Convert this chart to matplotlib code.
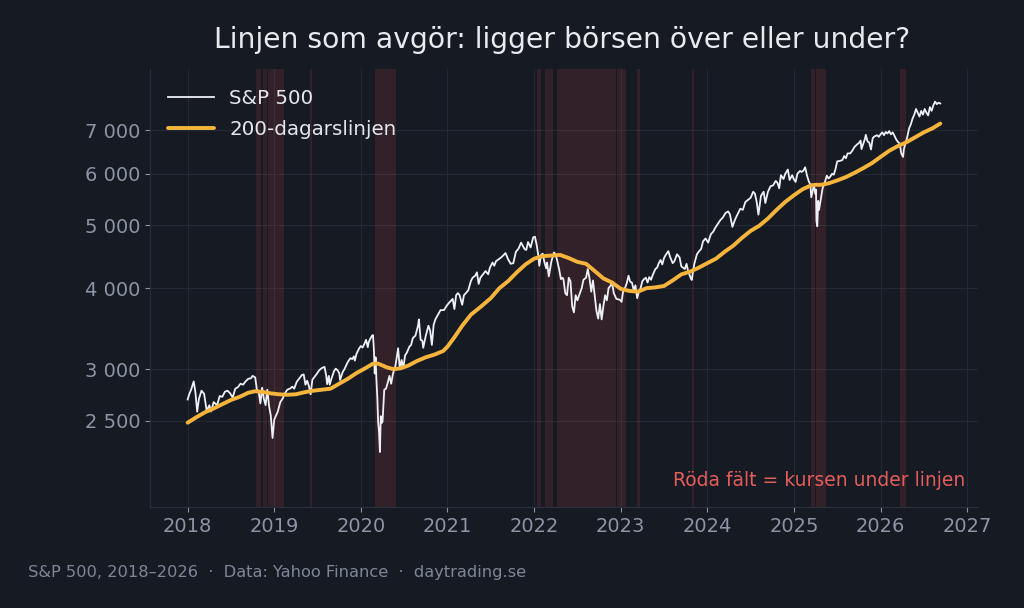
import matplotlib

matplotlib.use("Agg")
import matplotlib.pyplot as plt
from matplotlib.ticker import FixedLocator, NullLocator

# S&P 500 close (decimal year, index level)
sp_t = [
    2018.00, 2018.02, 2018.04, 2018.07, 2018.09, 2018.11, 2018.13, 2018.16, 2018.19, 2018.22,
    2018.25, 2018.27, 2018.30, 2018.34, 2018.37, 2018.40, 2018.43, 2018.46, 2018.49, 2018.52,
    2018.55, 2018.58, 2018.61, 2018.64, 2018.67, 2018.70, 2018.73, 2018.75, 2018.78, 2018.80,
    2018.82, 2018.84, 2018.86, 2018.88, 2018.90, 2018.92, 2018.94, 2018.96, 2018.98, 2019.00,
    2019.04, 2019.07, 2019.10, 2019.12, 2019.15, 2019.18, 2019.21, 2019.23, 2019.26, 2019.29,
    2019.32, 2019.34, 2019.36, 2019.38, 2019.40, 2019.42, 2019.44, 2019.47, 2019.49, 2019.52,
    2019.55, 2019.58, 2019.60, 2019.61, 2019.63, 2019.64, 2019.66, 2019.69, 2019.71, 2019.73,
    2019.75, 2019.76, 2019.79, 2019.81, 2019.83, 2019.85, 2019.88, 2019.90, 2019.92, 2019.93,
    2019.95, 2019.98, 2020.00, 2020.02, 2020.04, 2020.06, 2020.08, 2020.09, 2020.11, 2020.13,
    2020.14, 2020.15, 2020.16, 2020.17, 2020.18, 2020.19, 2020.20, 2020.21, 2020.22, 2020.23,
    2020.24, 2020.25, 2020.27, 2020.29, 2020.31, 2020.33, 2020.35, 2020.37, 2020.40, 2020.43,
    2020.45, 2020.47, 2020.49, 2020.51, 2020.53, 2020.56, 2020.58, 2020.60, 2020.63, 2020.66,
    2020.67, 2020.69, 2020.71, 2020.72, 2020.75, 2020.78, 2020.80, 2020.82, 2020.84, 2020.86,
    2020.89, 2020.92, 2020.96, 2020.99, 2021.02, 2021.06, 2021.08, 2021.10, 2021.12, 2021.14,
    2021.16, 2021.17, 2021.19, 2021.22, 2021.24, 2021.27, 2021.29, 2021.32, 2021.34, 2021.36,
    2021.38, 2021.41, 2021.44, 2021.47, 2021.49, 2021.52, 2021.54, 2021.56, 2021.58, 2021.62,
    2021.65, 2021.67, 2021.70, 2021.73, 2021.76, 2021.79, 2021.82, 2021.85, 2021.89, 2021.91,
    2021.93, 2021.96, 2021.99, 2022.01, 2022.03, 2022.05, 2022.06, 2022.08, 2022.10, 2022.12,
    2022.14, 2022.15, 2022.17, 2022.20, 2022.23, 2022.25, 2022.27, 2022.29, 2022.31, 2022.33,
    2022.34, 2022.36, 2022.38, 2022.40, 2022.42, 2022.44, 2022.46, 2022.48, 2022.50, 2022.52,
    2022.55, 2022.57, 2022.60, 2022.62, 2022.64, 2022.66, 2022.68, 2022.70, 2022.72, 2022.74,
    2022.76, 2022.78, 2022.80, 2022.82, 2022.84, 2022.86, 2022.88, 2022.90, 2022.92, 2022.95,
    2022.99, 2023.01, 2023.03, 2023.05, 2023.07, 2023.09, 2023.11, 2023.13, 2023.15, 2023.17,
    2023.19, 2023.21, 2023.23, 2023.25, 2023.27, 2023.29, 2023.31, 2023.33, 2023.35, 2023.37,
    2023.40, 2023.42, 2023.44, 2023.46, 2023.48, 2023.50, 2023.52, 2023.55, 2023.57, 2023.60,
    2023.62, 2023.65, 2023.68, 2023.70, 2023.74, 2023.76, 2023.78, 2023.81, 2023.82, 2023.85,
    2023.88, 2023.90, 2023.93, 2023.95, 2023.98, 2024.01, 2024.04, 2024.07, 2024.09, 2024.12,
    2024.15, 2024.18, 2024.21, 2024.24, 2024.26, 2024.29, 2024.32, 2024.35, 2024.38, 2024.41,
    2024.44, 2024.47, 2024.50, 2024.53, 2024.55, 2024.57, 2024.59, 2024.62, 2024.65, 2024.67,
    2024.70, 2024.73, 2024.76, 2024.79, 2024.81, 2024.83, 2024.85, 2024.88, 2024.90, 2024.93,
    2024.95, 2024.98, 2025.00, 2025.02, 2025.04, 2025.07, 2025.09, 2025.11, 2025.13, 2025.15,
    2025.17, 2025.19, 2025.20, 2025.22, 2025.23, 2025.25, 2025.255, 2025.26, 2025.27, 2025.28,
    2025.29, 2025.31, 2025.33, 2025.36, 2025.38, 2025.40, 2025.42, 2025.44, 2025.46, 2025.48,
    2025.50, 2025.53, 2025.56, 2025.58, 2025.60, 2025.62, 2025.65, 2025.67, 2025.70, 2025.73,
    2025.75, 2025.77, 2025.78, 2025.80, 2025.82, 2025.83, 2025.85, 2025.87, 2025.89, 2025.91,
    2025.93, 2025.96, 2025.98, 2026.00, 2026.02, 2026.04, 2026.06, 2026.08, 2026.10, 2026.12,
    2026.14, 2026.16, 2026.18, 2026.20, 2026.22, 2026.24, 2026.26, 2026.27, 2026.29, 2026.31,
    2026.33, 2026.35, 2026.37, 2026.39, 2026.41, 2026.43, 2026.45, 2026.47, 2026.49, 2026.51,
    2026.53, 2026.55, 2026.57, 2026.59, 2026.61, 2026.63, 2026.65, 2026.67, 2026.69,
]
sp_v = [
    2695, 2750, 2790, 2873, 2762, 2581, 2700, 2780, 2750, 2588,
    2640, 2582, 2670, 2640, 2728, 2720, 2770, 2780, 2755, 2713,
    2800, 2815, 2850, 2840, 2875, 2900, 2905, 2930, 2914, 2785,
    2768, 2658, 2810, 2700, 2641, 2790, 2633, 2545, 2351, 2510,
    2580, 2670, 2707, 2750, 2790, 2800, 2820, 2800, 2870, 2905,
    2940, 2945, 2840, 2880, 2826, 2745, 2890, 2925, 2950, 2990,
    3013, 3025, 2932, 2845, 2930, 2840, 2900, 2980, 3006, 2990,
    2960, 2887, 2970, 3000, 3040, 3080, 3120, 3110, 3140, 3093,
    3170, 3230, 3258, 3240, 3280, 3330, 3244, 3300, 3345, 3380,
    3386, 3225, 2954, 3130, 2882, 2711, 2480, 2400, 2237, 2540,
    2480, 2490, 2790, 2800, 2860, 2930, 2850, 2950, 3040, 3232,
    3002, 3100, 3010, 3150, 3180, 3250, 3270, 3350, 3380, 3500,
    3580, 3330, 3320, 3237, 3380, 3500, 3440, 3270, 3510, 3580,
    3640, 3700, 3700, 3756, 3800, 3850, 3714, 3900, 3930, 3900,
    3811, 3770, 3900, 3940, 3970, 4100, 4150, 4180, 4230, 4060,
    4150, 4200, 4250, 4200, 4300, 4380, 4330, 4400, 4420, 4460,
    4500, 4530, 4430, 4360, 4370, 4550, 4600, 4700, 4594, 4580,
    4710, 4620, 4790, 4800, 4660, 4480, 4330, 4500, 4520, 4380,
    4290, 4380, 4170, 4400, 4540, 4500, 4390, 4270, 4130, 4150,
    4120, 3930, 3900, 4150, 4100, 3750, 3670, 3900, 3830, 3900,
    4000, 4120, 4150, 4280, 4140, 3950, 4110, 3900, 3690, 3590,
    3780, 3580, 3750, 3900, 3830, 4000, 4030, 4080, 3930, 3850,
    3839, 3810, 3970, 4000, 4070, 4180, 4090, 4080, 3970, 4040,
    3860, 3950, 4000, 4100, 4130, 4150, 4080, 4160, 4120, 4190,
    4280, 4300, 4370, 4420, 4350, 4450, 4500, 4560, 4470, 4370,
    4400, 4510, 4460, 4320, 4280, 4360, 4240, 4140, 4117, 4360,
    4510, 4550, 4600, 4720, 4770, 4700, 4840, 4890, 4950, 5020,
    5090, 5140, 5220, 5250, 5200, 4970, 5100, 5200, 5300, 5280,
    5430, 5470, 5510, 5630, 5590, 5430, 5190, 5550, 5630, 5410,
    5630, 5740, 5760, 5850, 5810, 5700, 5970, 5890, 6000, 6090,
    5870, 5970, 5880, 5830, 6000, 6060, 6040, 6070, 6140, 5970,
    5850, 5770, 5520, 5670, 5770, 5580, 5670, 5070, 4980, 5450,
    5280, 5480, 5690, 5840, 5960, 5900, 5940, 6000, 5980, 6100,
    6270, 6280, 6300, 6390, 6340, 6450, 6450, 6500, 6600, 6660,
    6690, 6750, 6550, 6670, 6790, 6890, 6730, 6700, 6540, 6810,
    6850, 6880, 6840, 6900, 6950, 6880, 6960, 6920, 6980, 6900,
    6950, 6870, 6780, 6720, 6680, 6450, 6370, 6550, 6700, 6850,
    7050, 7150, 7300, 7400, 7550, 7450, 7350, 7500, 7400, 7550,
    7450, 7380, 7600, 7500, 7650, 7750, 7680, 7720, 7700,
]

# 200-day moving average
ma_t = [
    2018.00, 2018.10, 2018.20, 2018.30, 2018.40, 2018.50, 2018.60, 2018.70, 2018.78, 2018.85,
    2018.95, 2019.05, 2019.15, 2019.25, 2019.35, 2019.45, 2019.55, 2019.65, 2019.75, 2019.85,
    2019.95, 2020.05, 2020.14, 2020.20, 2020.30, 2020.38, 2020.46, 2020.55, 2020.65, 2020.75,
    2020.85, 2020.95, 2021.00, 2021.08, 2021.17, 2021.27, 2021.38, 2021.50, 2021.60, 2021.70,
    2021.80, 2021.90, 2022.00, 2022.10, 2022.20, 2022.30, 2022.40, 2022.50, 2022.60, 2022.70,
    2022.80, 2022.90, 2023.00, 2023.10, 2023.20, 2023.30, 2023.40, 2023.50, 2023.60, 2023.70,
    2023.80, 2023.90, 2024.00, 2024.10, 2024.20, 2024.30, 2024.40, 2024.50, 2024.60, 2024.70,
    2024.80, 2024.90, 2025.00, 2025.10, 2025.20, 2025.25, 2025.32, 2025.40, 2025.50, 2025.60,
    2025.70, 2025.80, 2025.90, 2026.00, 2026.10, 2026.20, 2026.30, 2026.40, 2026.50, 2026.60,
    2026.69,
]
ma_v = [
    2482, 2530, 2575, 2610, 2650, 2690, 2720, 2760, 2775, 2770,
    2755, 2745, 2740, 2745, 2765, 2780, 2790, 2800, 2850, 2900,
    2960, 3010, 3060, 3060, 3020, 3000, 3010, 3040, 3090, 3130,
    3160, 3200, 3250, 3360, 3500, 3640, 3740, 3860, 4000, 4100,
    4230, 4350, 4440, 4480, 4490, 4500, 4450, 4390, 4360, 4250,
    4140, 4080, 3990, 3960, 3950, 4000, 4010, 4030, 4110, 4200,
    4240, 4300, 4370, 4440, 4550, 4650, 4780, 4900, 4990, 5120,
    5280, 5430, 5560, 5680, 5760, 5770, 5770, 5800, 5860, 5930,
    6020, 6120, 6230, 6370, 6510, 6620, 6710, 6830, 6950, 7050,
    7170,
]

# periods with the close below the 200-day line
below_start = [2018.79, 2018.87, 2018.93, 2019.41, 2020.16, 2022.03, 2022.13,
               2022.26, 2022.955, 2023.19, 2023.82, 2025.20, 2025.26, 2026.23]
below_end = [2018.85, 2018.92, 2019.11, 2019.43, 2020.40, 2022.08, 2022.22,
             2022.95, 2023.06, 2023.22, 2023.85, 2025.24, 2025.37, 2026.29]

y_ticks = [2500, 3000, 4000, 5000, 6000, 7000]
x_ticks = list(range(2018, 2028))

BG = "#161a22"
GRID = "#242933"
TICK = "#8c95a5"

fig = plt.figure(figsize=(10.24, 6.08), dpi=100)
fig.patch.set_facecolor(BG)
ax = fig.add_axes([0.1465, 0.166, 0.8085, 0.7205])
ax.set_facecolor(BG)

for s, e in zip(below_start, below_end):
    ax.axvspan(s, e, color="#e0505a", alpha=0.14, lw=0, zorder=1)

ax.plot(sp_t, sp_v, color="#eef0f6", lw=1.3, label="S&P 500", zorder=3)
ax.plot(ma_t, ma_v, color="#f5b53c", lw=2.8, label="200-dagarslinjen", zorder=4,
        solid_capstyle="round")

ax.set_yscale("log")
ax.set_ylim(1840, 8700)
ax.yaxis.set_major_locator(FixedLocator(y_ticks))
ax.yaxis.set_minor_locator(NullLocator())
ax.set_yticklabels([f"{v:,}".replace(",", " ") for v in y_ticks])
ax.set_xticks(x_ticks)
ax.set_xticklabels([str(x) for x in x_ticks])

ax.grid(True, color=GRID, lw=0.8)
ax.set_axisbelow(True)
ax.tick_params(colors=TICK, labelsize=14, length=3.5, width=0.8)
for side in ("top", "right"):
    ax.spines[side].set_visible(False)
for side in ("left", "bottom"):
    ax.spines[side].set_color("#2a303b")

leg = ax.legend(loc="upper left", frameon=False, fontsize=14.3, handlelength=2.3,
                borderaxespad=0.5, bbox_to_anchor=(0.0, 0.996), labelspacing=0.62)
for txt in leg.get_texts():
    txt.set_color("#e4e6ec")

ax.text(0.985, 0.06, "Röda fält = kursen under linjen", transform=ax.transAxes,
        ha="right", va="center", color="#e35d5d", fontsize=13.5)

fig.text(0.549, 0.934, "Linjen som avgör: ligger börsen över eller under?",
         ha="center", va="center", color="#e8eaee", fontsize=20.3)
fig.text(0.027, 0.059, "S&P 500, 2018–2026  ·  Data: Yahoo Finance  ·  daytrading.se",
         ha="left", va="center", color="#7e8798", fontsize=11.7)

fig.savefig("out.png", dpi=100, facecolor=BG)
